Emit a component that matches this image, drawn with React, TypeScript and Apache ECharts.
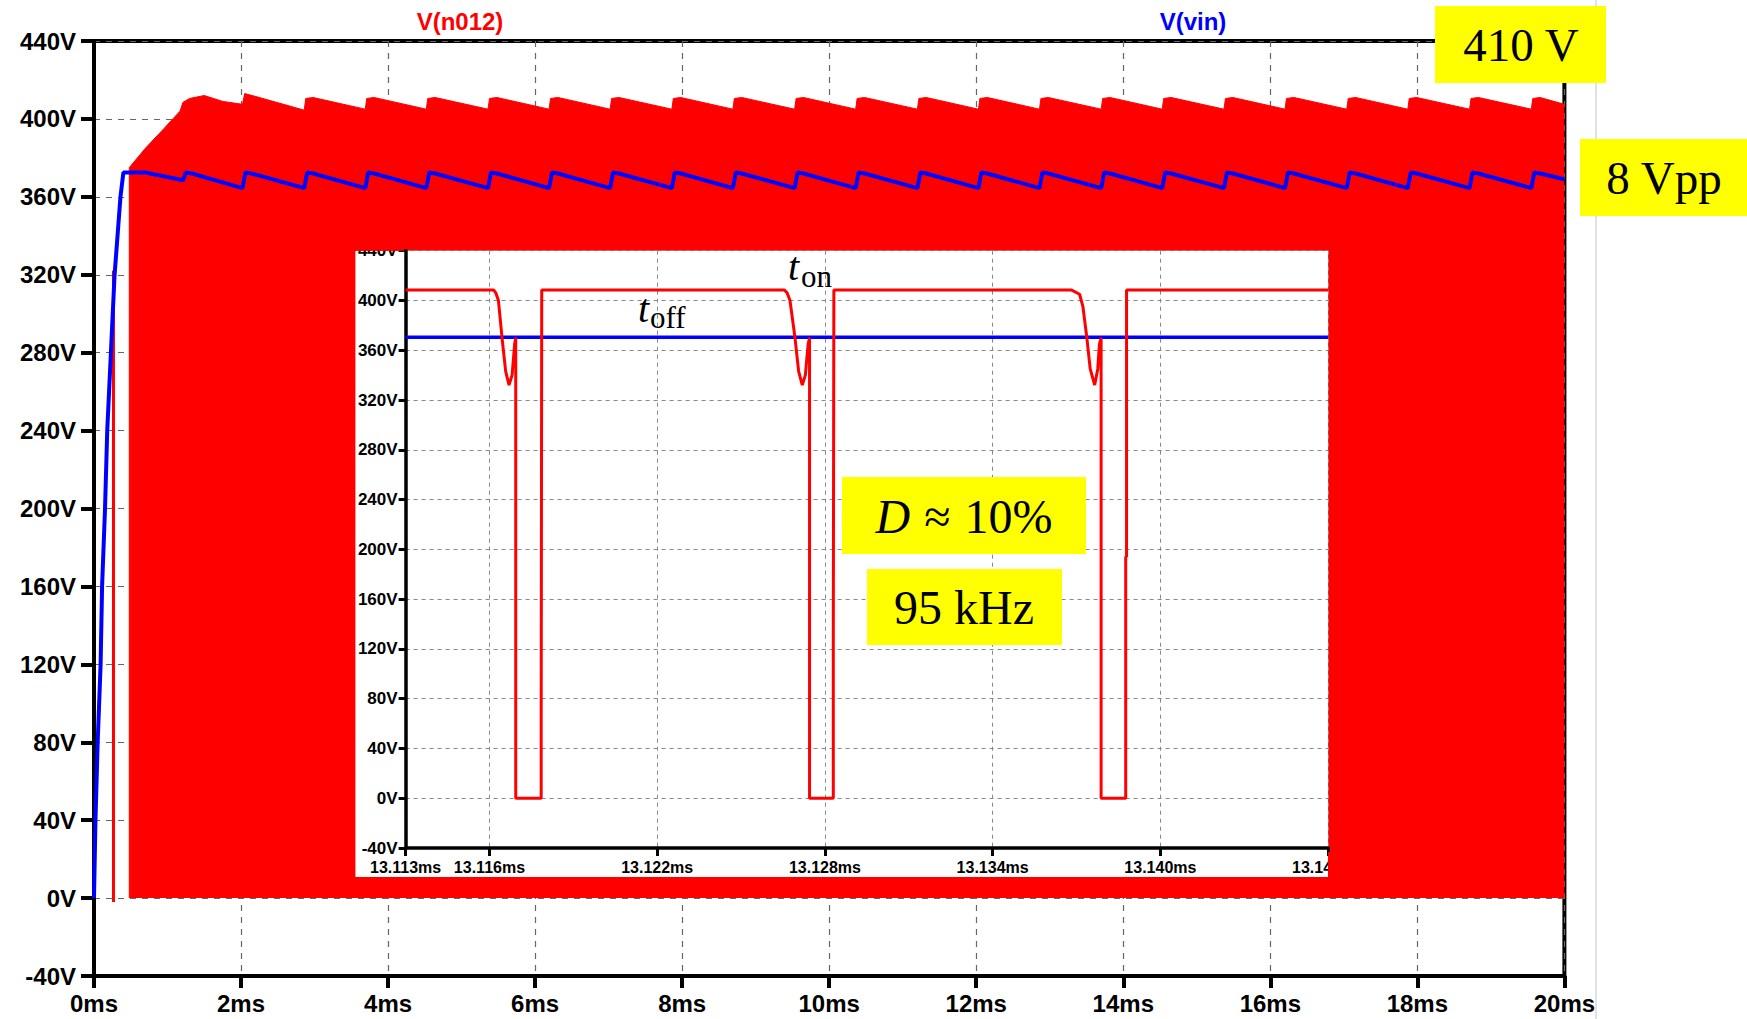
import React, { useEffect, useRef } from "react";
import * as echarts from "echarts";

// ---------- Main plot data (time in ms, voltage in V) ----------
const mainXTicks = [0, 2, 4, 6, 8, 10, 12, 14, 16, 18, 20];
const mainYTicks = [-40, 0, 40, 80, 120, 160, 200, 240, 280, 320, 360, 400, 440];

// V(vin): start-up ramp then 8 Vpp sawtooth ripple
const vinMain: [number, number][] = [
  [0, 0], [0.02, 40], [0.05, 80], [0.07, 100], [0.09, 120], [0.11, 160], [0.15, 200],
  [0.18, 240], [0.23, 280], [0.28, 320], [0.33, 345], [0.36, 360], [0.4, 372.5],
  [0.7, 372.5], [1.21, 368.5], [1.25, 372.5], [1.33, 372],
  [2.02, 364.5], [2.06, 372.5], [2.14, 372],
  [2.86, 364.5], [2.9, 372.5], [2.98, 372],
  [3.69, 364.5], [3.73, 372.5], [3.81, 372],
  [4.52, 364.5], [4.56, 372.5], [4.64, 372],
  [5.36, 364.5], [5.4, 372.5], [5.48, 372],
  [6.19, 364.5], [6.23, 372.5], [6.31, 372],
  [7.02, 364.5], [7.06, 372.5], [7.14, 372],
  [7.86, 364.5], [7.9, 372.5], [7.98, 372],
  [8.69, 364.5], [8.73, 372.5], [8.81, 372],
  [9.53, 364.5], [9.57, 372.5], [9.65, 372],
  [10.36, 364.5], [10.4, 372.5], [10.48, 372],
  [11.2, 364.5], [11.24, 372.5], [11.32, 372],
  [12.03, 364.5], [12.07, 372.5], [12.15, 372],
  [12.86, 364.5], [12.9, 372.5], [12.98, 372],
  [13.7, 364.5], [13.74, 372.5], [13.82, 372],
  [14.53, 364.5], [14.57, 372.5], [14.65, 372],
  [15.37, 364.5], [15.41, 372.5], [15.49, 372],
  [16.2, 364.5], [16.24, 372.5], [16.32, 372],
  [17.04, 364.5], [17.08, 372.5], [17.16, 372],
  [17.87, 364.5], [17.91, 372.5], [17.99, 372],
  [18.71, 364.5], [18.75, 372.5], [18.83, 372],
  [19.55, 364.5], [19.59, 372.5], [19.67, 372],
  [20, 369],
];

// V(n012): switching node, drawn as its upper envelope filled down to 0 V
const n012Envelope: [number, number][] = [
  [0.48, 0], [0.48, 375], [0.7, 385], [0.95, 395], [1.17, 404], [1.21, 408.5],
  [1.3, 410.5], [1.5, 412], [1.75, 409], [2.02, 407.5], [2.05, 413], [2.2, 411.5],
  [2.86, 404.5], [2.88, 410.5], [2.98, 411],
  [3.69, 405], [3.71, 410.5], [3.81, 411],
  [4.52, 405], [4.54, 410.5], [4.64, 411],
  [5.36, 405], [5.38, 410.5], [5.48, 411],
  [6.19, 405], [6.21, 410.5], [6.31, 411],
  [7.02, 405], [7.04, 410.5], [7.14, 411],
  [7.86, 405], [7.88, 410.5], [7.98, 411],
  [8.69, 405], [8.71, 410.5], [8.81, 411],
  [9.53, 405], [9.55, 410.5], [9.65, 411],
  [10.36, 405], [10.38, 410.5], [10.48, 411],
  [11.2, 405], [11.22, 410.5], [11.32, 411],
  [12.03, 405], [12.05, 410.5], [12.15, 411],
  [12.86, 405], [12.88, 410.5], [12.98, 411],
  [13.7, 405], [13.72, 410.5], [13.82, 411],
  [14.53, 405], [14.55, 410.5], [14.65, 411],
  [15.37, 405], [15.39, 410.5], [15.49, 411],
  [16.2, 405], [16.22, 410.5], [16.32, 411],
  [17.04, 405], [17.06, 410.5], [17.16, 411],
  [17.87, 405], [17.89, 410.5], [17.99, 411],
  [18.71, 405], [18.73, 410.5], [18.83, 411],
  [19.55, 405], [19.57, 410.5], [19.67, 411],
  [20, 407.5],
];
const n012Spike: [number, number][] = [[0.265, -2], [0.265, 322]];

// ---------- Inset data (time in ms) ----------
const insetXTicks = [13.113, 13.116, 13.122, 13.128, 13.134, 13.14, 13.146];
const insetN012: [number, number][] = [
  [13.113, 408.5], [13.11615, 408.5], [13.11623, 406], [13.11632, 400], [13.11645, 370],
  [13.11658, 343], [13.1167, 332], [13.11681, 340], [13.1169, 365], [13.11694, 370],
  [13.11694, 0], [13.11785, 0], [13.11785, 63], [13.11787, 63], [13.11787, 408.5],
  [13.12655, 408.5], [13.12665, 406], [13.12675, 400], [13.12693, 370], [13.12706, 343],
  [13.12719, 332], [13.1273, 340], [13.1274, 365], [13.12745, 370],
  [13.12745, 0], [13.1283, 0], [13.1283, 130], [13.12832, 130], [13.12832, 408.5],
  [13.13681, 408.5], [13.13711, 405], [13.13723, 395], [13.13737, 370], [13.13749, 345],
  [13.13765, 332], [13.13776, 345], [13.13782, 365], [13.13788, 370],
  [13.13788, 0], [13.13876, 0], [13.13876, 194], [13.13879, 194], [13.13879, 408.5],
  [13.146, 408.5],
];
const insetVin: [number, number][] = [[13.113, 370.5], [13.146, 370.5]];

const SANS = "'Liberation Sans', Arial, sans-serif";
const SERIF = "'Liberation Serif', 'Times New Roman', serif";

function buildOption(): any {
  const yellowBox = (x: number, y: number, w: number, h: number) => ({
    type: "rect", z: 20, silent: true,
    shape: { x, y, width: w, height: h },
    style: { fill: "#ffff00" },
  });
  const serifText = (x: number, y: number, text: string, size: number, extra: any = {}) => ({
    type: "text", z: 21, silent: true, x, y,
    style: {
      text, fontFamily: SERIF, fontSize: size, fill: "#000",
      align: extra.align || "center", verticalAlign: "middle",
      fontStyle: extra.fontStyle || "normal", rich: extra.rich,
    },
  });

  return {
    animation: false,
    backgroundColor: "#ffffff",
    grid: [
      { left: 94, top: 41, width: 1470.4, height: 935, show: true, borderColor: "#000", borderWidth: 4, backgroundColor: "transparent", containLabel: false },
      { left: 405.6, top: 250.7, width: 922.5, height: 597.3, show: false, containLabel: false },
    ],
    xAxis: [
      {
        gridIndex: 0, type: "value", min: mainXTicks[0], max: mainXTicks[mainXTicks.length - 1], interval: 2,
        axisLine: { show: true, onZero: false, lineStyle: { color: "#000", width: 4 } },
        axisTick: { show: true, inside: false, length: 12, lineStyle: { color: "#000", width: 4 } },
        axisLabel: { formatter: (v: number) => `${v}ms`, color: "#000", fontSize: 24, fontWeight: "bold", fontFamily: SANS, margin: 15 },
        splitLine: { show: true, lineStyle: { color: "#666", width: 1.2, type: [6, 6] } },
        z: 0,
      },
      {
        gridIndex: 1, type: "value", min: insetXTicks[0], max: insetXTicks[insetXTicks.length - 1],
        axisLine: { show: true, onZero: false, lineStyle: { color: "#000", width: 3.5 } },
        axisTick: { show: true, inside: false, length: 8, customValues: insetXTicks, lineStyle: { color: "#000", width: 3 } },
        axisLabel: { customValues: insetXTicks, formatter: (v: number) => `${v.toFixed(3)}ms`, color: "#000", fontSize: 16, fontWeight: "bold", fontFamily: SANS, margin: 11 },
        splitLine: { show: true, lineStyle: { color: "#888", width: 1, type: [4, 4] } },
        z: 6,
      },
    ],
    yAxis: [
      {
        gridIndex: 0, type: "value", min: mainYTicks[0], max: mainYTicks[mainYTicks.length - 1], interval: 40,
        axisLine: { show: true, onZero: false, lineStyle: { color: "#000", width: 4 } },
        axisTick: { show: true, inside: false, length: 13, lineStyle: { color: "#000", width: 4 } },
        axisLabel: { formatter: (v: number) => `${v}V`, color: "#000", fontSize: 24, fontWeight: "bold", fontFamily: SANS, margin: 18 },
        splitLine: { show: true, lineStyle: { color: "#666", width: 1.2, type: [6, 6] } },
        z: 0,
      },
      {
        gridIndex: 1, type: "value", min: -40, max: 440, interval: 40,
        axisLine: { show: true, onZero: false, lineStyle: { color: "#000", width: 3.5 } },
        axisTick: { show: true, inside: false, length: 7, lineStyle: { color: "#000", width: 3 } },
        axisLabel: { formatter: (v: number) => `${v}V`, color: "#000", fontSize: 17, fontWeight: "bold", fontFamily: SANS, margin: 8 },
        splitLine: { show: true, lineStyle: { color: "#888", width: 1, type: [4, 4] } },
        z: 6,
      },
    ],
    series: [
      {
        name: "V(n012)", type: "line", xAxisIndex: 0, yAxisIndex: 0, data: n012Envelope,
        symbol: "none", silent: true, z: 2,
        lineStyle: { color: "#ff0000", width: 1 },
        areaStyle: { color: "#ff0000", opacity: 1 },
      },
      {
        name: "V(n012) spike", type: "line", xAxisIndex: 0, yAxisIndex: 0, data: n012Spike,
        symbol: "none", silent: true, z: 2, lineStyle: { color: "#ff0000", width: 3 },
      },
      {
        name: "V(vin)", type: "line", xAxisIndex: 0, yAxisIndex: 0, data: vinMain,
        symbol: "none", silent: true, z: 3, lineStyle: { color: "#0000ff", width: 4 },
      },
      {
        name: "V(vin) inset", type: "line", xAxisIndex: 1, yAxisIndex: 1, data: insetVin,
        symbol: "none", silent: true, z: 11, lineStyle: { color: "#0000ff", width: 3.5 },
      },
      {
        name: "V(n012) inset", type: "line", xAxisIndex: 1, yAxisIndex: 1, data: insetN012,
        symbol: "none", silent: true, z: 12, lineStyle: { color: "#ff0000", width: 3 },
      },
    ],
    graphic: [
      // faint page edge line
      { type: "line", z: 1, silent: true, shape: { x1: 1596, y1: 0, x2: 1596, y2: 1019 }, style: { stroke: "#e2e2e2", lineWidth: 2 } },
      // inset white panel
      { type: "rect", z: 5, silent: true, shape: { x: 355.4, y: 250.7, width: 972.7, height: 626.2 }, style: { fill: "#ffffff" } },
      // parts of the inset labels that fall outside the pasted panel
      { type: "rect", z: 8, silent: true, shape: { x: 350, y: 232, width: 54, height: 18.7 }, style: { fill: "#ff0000" } },
      { type: "rect", z: 8, silent: true, shape: { x: 1328.1, y: 852, width: 55, height: 25 }, style: { fill: "#ff0000" } },
      // legend texts
      { type: "text", z: 21, silent: true, x: 460, y: 21, style: { text: "V(n012)", fontFamily: SANS, fontSize: 24, fontWeight: "bold", fill: "#ff0000", align: "center", verticalAlign: "middle" } },
      { type: "text", z: 21, silent: true, x: 1193, y: 21, style: { text: "V(vin)", fontFamily: SANS, fontSize: 24, fontWeight: "bold", fill: "#0000ff", align: "center", verticalAlign: "middle" } },
      // annotation boxes
      yellowBox(1435, 6, 171, 77),
      serifText(1521, 45, "410 V", 47),
      yellowBox(1580, 139, 167, 77),
      serifText(1664, 178, "8 Vpp", 47),
      yellowBox(842, 477, 244, 77),
      serifText(964, 516, "{i|D}{a|≈}10%", 48, {
        rich: {
          i: { fontStyle: "italic", fontFamily: SERIF, fontSize: 48, fill: "#000" },
          a: { fontFamily: SERIF, fontSize: 48, fill: "#000", padding: [0, 14, 0, 14] },
        },
      }),
      yellowBox(867, 569, 195, 76),
      serifText(964, 607, "95 kHz", 48),
      // t_on / t_off
      serifText(788, 266, "t", 40, { align: "left", fontStyle: "italic" }),
      serifText(801, 276, "on", 31, { align: "left" }),
      serifText(638, 308, "t", 40, { align: "left", fontStyle: "italic" }),
      serifText(650, 317, "off", 31, { align: "left" }),
    ],
  };
}

export default function App() {
  const ref = useRef<HTMLDivElement>(null);
  useEffect(() => {
    document.body.style.margin = "0";
    if (!ref.current) return;
    const chart = echarts.init(ref.current, null, { renderer: "svg", width: 1747, height: 1019 });
    chart.setOption(buildOption());
    return () => chart.dispose();
  }, []);
  return <div ref={ref} style={{ width: 1747, height: 1019, background: "#fff", position: "absolute", left: 0, top: 0 }} />;
}
